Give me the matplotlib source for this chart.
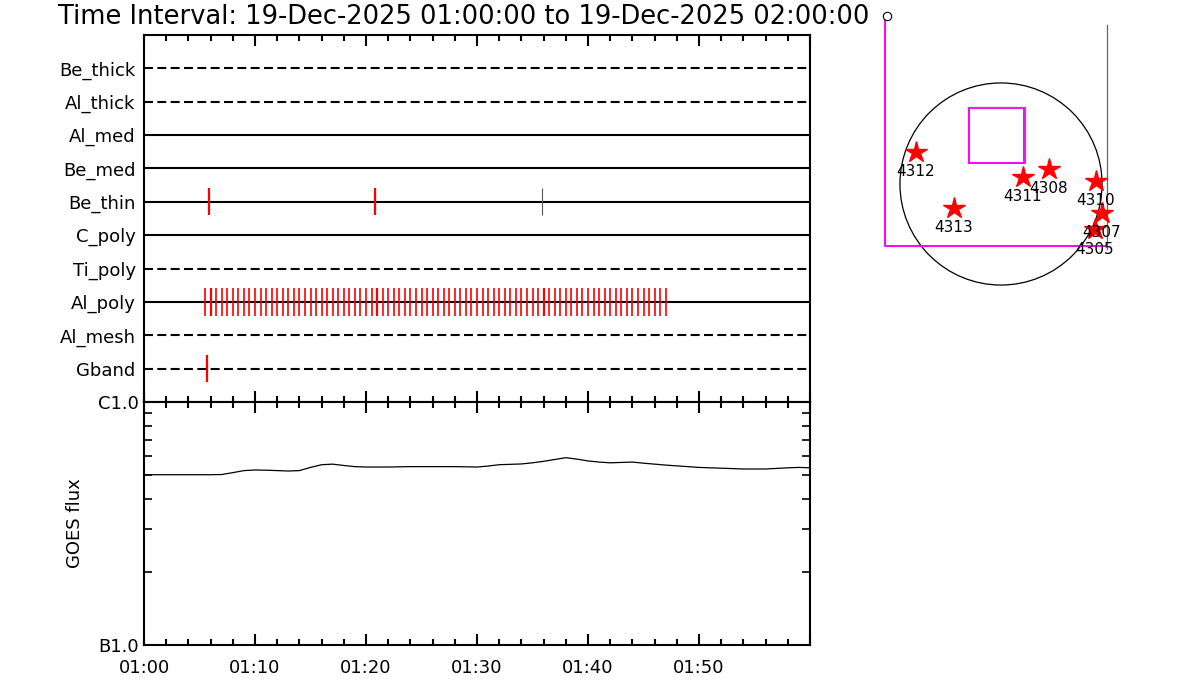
import numpy as np
import matplotlib.pyplot as plt
from matplotlib.patches import Circle, Rectangle
from matplotlib.ticker import FixedLocator, NullFormatter

plt.rcParams['font.family'] = ['DejaVu Sans']

# Data: times in minutes after 01:00 UT
rows = ['Gband', 'Al_mesh', 'Al_poly', 'Ti_poly', 'C_poly',
        'Be_thin', 'Be_med', 'Al_med', 'Al_thick', 'Be_thick']
row_dashed = [True, True, False, True, False, False, False, False, True, True]

gband_times = [5.65]
be_thin_times = [5.85, 20.85]
be_thin_grey_times = [35.85]
al_poly_times = [5.5, 6.0, 6.5, 7.0, 7.5, 8.0, 8.5, 9.0, 9.5, 10.0,
                 10.5, 11.0, 11.5, 12.0, 12.5, 13.0, 13.5, 14.0, 14.5, 15.0,
                 15.5, 16.0, 16.5, 17.0, 17.5, 18.0, 18.5, 19.0, 19.5, 20.0,
                 20.5, 21.0, 21.5, 22.0, 22.5, 23.0, 23.5, 24.0, 24.5, 25.0,
                 25.5, 26.0, 26.5, 27.0, 27.5, 28.0, 28.5, 29.0, 29.5, 30.0,
                 30.5, 31.0, 31.5, 32.0, 32.5, 33.0, 33.5, 34.0, 34.5, 35.0,
                 35.5, 36.0, 36.5, 37.0, 37.5, 38.0, 38.5, 39.0, 39.5, 40.0,
                 40.5, 41.0, 41.5, 42.0, 42.5, 43.0, 43.5, 44.0, 44.5, 45.0,
                 45.5, 46.0, 46.5, 47.0]
al_poly_double = [6.05, 20.95, 36.0]

goes_t = [0, 2, 4, 6, 7, 8, 9, 10, 11, 12, 13, 14, 15, 16, 17, 18, 19, 20,
          22, 24, 26, 28, 30, 31, 32, 34, 35, 36, 37, 38, 39, 40, 41, 42,
          43, 44, 45, 46, 47, 48, 49, 50, 52, 54, 56, 57, 58, 59, 60]
goes_flux = [5.02, 5.02, 5.02, 5.02, 5.03, 5.12, 5.22, 5.25, 5.24, 5.22,
             5.20, 5.22, 5.38, 5.52, 5.55, 5.48, 5.42, 5.40, 5.40, 5.42,
             5.42, 5.42, 5.40, 5.45, 5.52, 5.56, 5.62, 5.70, 5.80, 5.90,
             5.82, 5.72, 5.66, 5.62, 5.64, 5.66, 5.60, 5.55, 5.50, 5.46,
             5.42, 5.38, 5.34, 5.30, 5.30, 5.33, 5.36, 5.38, 5.36]
goes_flux = [f * 1e-7 for f in goes_flux]

# sunspot regions, arcsec from disk centre
ar_names = ['4312', '4313', '4311', '4308', '4310', '4307', '4305']
ar_x = [-808, -449, 209, 456, 903, 957, 893]
ar_y = [304, -228, 67, 143, 29, -273, -428]

fig = plt.figure(figsize=(12, 7), dpi=100)

fig.text(58 / 1200, 1 - 24 / 700,
         'Time Interval: 19-Dec-2025 01:00:00 to 19-Dec-2025 02:00:00',
         fontsize=18.5, va='baseline', ha='left')

# --- event rows panel
ax = fig.add_axes([144 / 1200, 1 - 402 / 700, 666 / 1200, 367 / 700])
for i, (name, dashed) in enumerate(zip(rows, row_dashed)):
    if dashed:
        ax.plot([0, 60], [i, i], color='black', lw=1.5, dashes=(4.3, 2.1))
    else:
        ax.plot([0, 60], [i, i], color='black', lw=1.5)

h = 0.41
ax.vlines(gband_times, 0 - h, 0 + h, color='red', lw=1.6)
ax.vlines(be_thin_times, 5 - h, 5 + h, color='red', lw=1.6)
ax.vlines(be_thin_grey_times, 5 - h, 5 + h, color='#555555', lw=0.8)
ax.vlines(al_poly_times, 2 - h, 2 + h, color='red', lw=1.2)
ax.vlines(al_poly_double, 2 - h, 2 + h, color='red', lw=1.6)

ax.set_xlim(0, 60)
ax.set_ylim(-1, 10)
ax.set_yticks(range(len(rows)))
ax.set_yticklabels(rows, fontsize=13)
ax.tick_params(axis='y', length=0, pad=6)
ax.xaxis.set_major_locator(FixedLocator([0, 10, 20, 30, 40, 50, 60]))
ax.xaxis.set_minor_locator(FixedLocator(list(range(0, 61, 2))))
ax.xaxis.set_major_formatter(NullFormatter())
ax.tick_params(axis='x', which='both', direction='in', top=True, bottom=True,
               width=1.5)
ax.tick_params(axis='x', which='major', length=8)
ax.tick_params(axis='x', which='minor', length=4)
for s in ax.spines.values():
    s.set_linewidth(1.5)

# --- GOES panel
gx = fig.add_axes([144 / 1200, 1 - 645 / 700, 666 / 1200, 243 / 700])
gx.plot(goes_t, goes_flux, color='black', lw=0.9)
gx.set_yscale('log')
gx.set_ylim(1e-7, 1e-6)
gx.set_xlim(0, 60)
gx.set_yticks([1e-7, 1e-6])
gx.set_yticklabels(['B1.0', 'C1.0'], fontsize=13)
gx.yaxis.set_minor_locator(FixedLocator([k * 1e-7 for k in range(2, 10)]))
gx.yaxis.set_minor_formatter(NullFormatter())
gx.tick_params(axis='y', which='both', direction='in', left=True, right=True,
               width=1.2)
gx.tick_params(axis='y', which='major', length=9, pad=4)
gx.tick_params(axis='y', which='minor', length=6)
gx.xaxis.set_major_locator(FixedLocator([0, 10, 20, 30, 40, 50, 60]))
gx.set_xticklabels(['01:00', '01:10', '01:20', '01:30', '01:40', '01:50', ''],
                   fontsize=13)
gx.xaxis.set_minor_locator(FixedLocator(list(range(0, 61, 2))))
gx.tick_params(axis='x', which='both', direction='in', top=True, bottom=True,
               width=1.5)
gx.tick_params(axis='x', which='major', length=8, pad=10)
gx.tick_params(axis='x', which='minor', length=4)
gx.set_ylabel('GOES flux', fontsize=13, labelpad=10)
for s in gx.spines.values():
    s.set_linewidth(1.5)

# --- solar disk panel
sx = fig.add_axes([870 / 1200, 1 - 300 / 700, 260 / 1200, 300 / 700])
sx.set_xlim(-1244.5, 1225.5)
sx.set_ylim(-1102, 1748)
sx.axis('off')
sx.add_patch(Circle((0, 0), 960, fill=False, color='black', lw=0.9))
sx.plot([-1102, -1102, 1007], [1560, -589, -589], color='magenta', lw=1.4)
sx.plot([1007, 1007], [1510, -620], color='#666666', lw=0.9)
sx.add_patch(Rectangle((-304, 202), 522, 523, fill=False,
                       edgecolor='magenta', lw=1.4))
sx.plot([-304, 228, 228], [731, 731, 202], color='#777777', lw=0.9)
sx.plot([-1080], [1600], marker='o', ms=6, mfc='none', mec='black', mew=0.8)
sx.plot(ar_x, ar_y, linestyle='none', marker='*', ms=16, color='red')
for name, x, y in zip(ar_names, ar_x, ar_y):
    sx.text(x, y - 190, name, fontsize=11, ha='center', va='center')

fig.savefig('out.png', dpi=100)
